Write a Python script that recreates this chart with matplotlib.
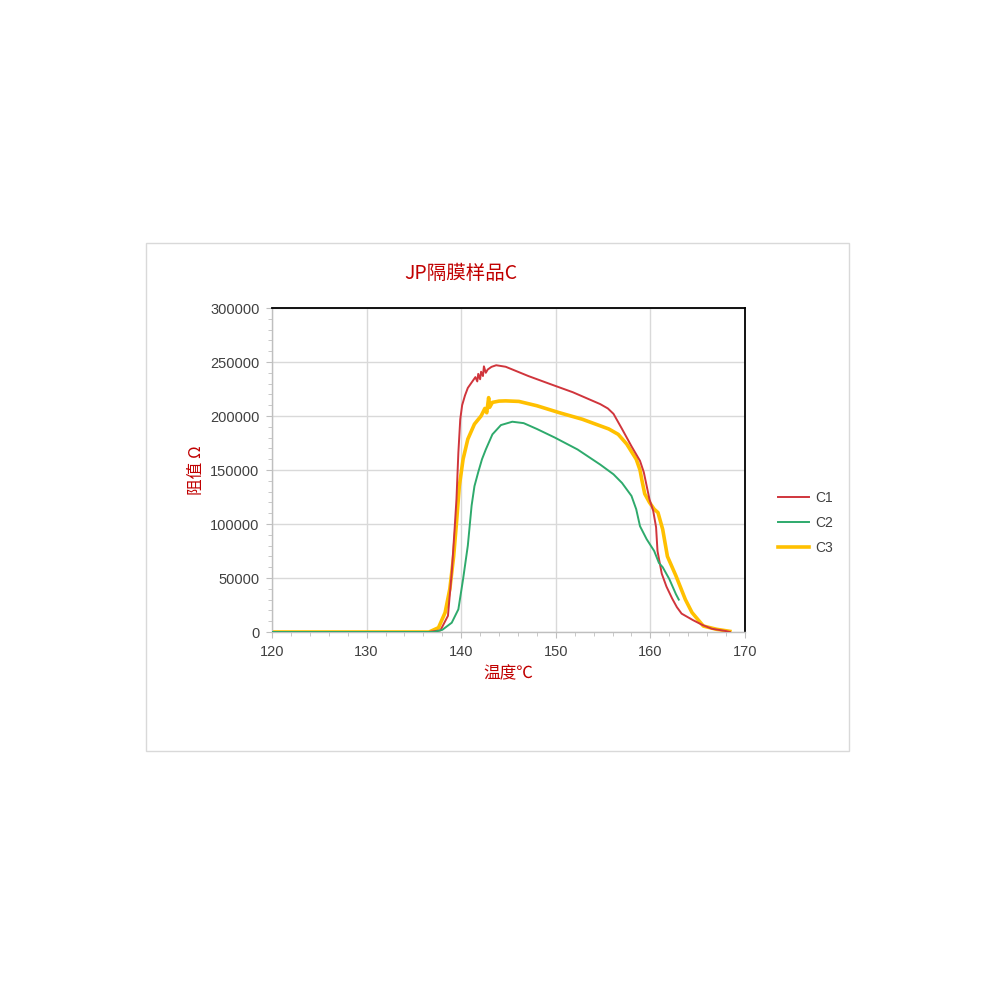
import matplotlib
matplotlib.use("Agg")
import matplotlib.pyplot as plt
from matplotlib.patches import Rectangle
from matplotlib.ticker import MultipleLocator

plt.rcParams['font.family'] = ['Liberation Sans', 'Noto Sans CJK SC', 'DejaVu Sans']

title = "JP隔膜样品C"
xlabel = "温度℃"
ylabel = "阻值 Ω"
series_names = ["C1", "C2", "C3"]
colors = ["#d0353c", "#2eaa6c", "#ffc000"]

t1 = [120, 130, 136.5, 137.8, 138.6, 139.0, 139.3, 139.5, 139.7, 139.9, 140.1, 140.4, 140.7, 141.1,
      141.5, 141.7, 141.8, 142.0, 142.1, 142.3, 142.4, 142.6, 142.8, 143.2, 143.7, 144.7, 147.1,
      149.4, 151.8, 154.7, 155.5, 156.1, 157.0, 158.0, 158.9, 159.3, 159.9, 160.3, 160.6, 160.75,
      161.2, 161.7, 162.3, 162.8, 163.3, 164.5, 165.5, 166.5, 167.9, 168.4]
r1 = [0, 0, 0, 1500, 15000, 55000, 95000, 123000, 166000, 197000, 210000, 219000, 226000, 231000,
      236000, 232000, 239000, 234000, 241000, 237000, 246000, 240000, 243000, 245500, 247000, 245600,
      237000, 229600, 222000, 211000, 207000, 202000, 188000, 172000, 158500, 148000, 123000, 112000,
      97000, 75000, 54000, 42000, 31000, 23000, 17000, 11000, 6500, 3000, 1000, 0]

t2 = [120, 130, 137.1, 138.0, 139.0, 139.7, 140.2, 140.7, 141.1, 141.4, 141.8, 142.2, 142.6, 143.3,
      144.2, 145.4, 146.6, 148.0, 149.9, 152.3, 154.7, 156.1, 157.0, 158.0, 158.5, 158.9, 159.6,
      160.4, 160.9, 161.3, 162.0, 162.7, 163.0]
r2 = [0, 0, 0, 2000, 8600, 21000, 49000, 80000, 117000, 135000, 148000, 160000, 169000, 183000,
      191600, 194700, 193400, 188000, 180000, 169000, 155000, 146000, 138000, 126000, 113700, 98000,
      86000, 75000, 64000, 60000, 49000, 35000, 30000]

t3 = [120, 130, 136.6, 137.6, 138.3, 138.8, 139.2, 139.5, 139.8, 140.2, 140.7, 141.4, 142.1,
      142.5, 142.7, 142.9, 143.0, 143.3, 144.0, 144.7, 146.1, 148.0, 150.4, 152.8, 155.6, 156.6,
      157.5, 158.5, 158.9, 159.1, 159.4, 159.9, 160.4, 160.8, 161.3, 161.8, 162.7, 163.7,
      164.4, 165.6, 167.0, 168.4]
r3 = [0, 0, 0, 4000, 18000, 40000, 70000, 101000, 135000, 160000, 178600, 192500, 200000,
      207000, 203000, 217000, 208000, 212600, 213800, 214000, 213500, 209500, 203000, 197000, 188000,
      183000, 174000, 160000, 150000, 140700, 128000, 120000, 113700, 110600, 95000, 70000, 52000,
      30000, 18000, 5500, 2500, 600]

fig = plt.figure(figsize=(10, 10), dpi=100)
fig.patch.set_facecolor("white")
fig.patches.append(Rectangle((0.146, 0.249), 0.703, 0.508, transform=fig.transFigure,
                             fill=False, edgecolor="#d9d9d9", linewidth=1.0))

ax = fig.add_axes([0.272, 0.368, 0.473, 0.324])
ax.plot(t1, r1, color=colors[0], linewidth=1.4, label=series_names[0], zorder=3)
ax.plot(t2, r2, color=colors[1], linewidth=1.4, label=series_names[1], zorder=3)
ax.plot(t3, r3, color=colors[2], linewidth=2.6, label=series_names[2], zorder=2)

ax.set_xlim(120, 170)
ax.set_ylim(0, 300000)
ax.xaxis.set_major_locator(MultipleLocator(10))
ax.xaxis.set_minor_locator(MultipleLocator(2))
ax.yaxis.set_major_locator(MultipleLocator(50000))
ax.yaxis.set_minor_locator(MultipleLocator(10000))
ax.grid(True, which="major", color="#d9d9d9", linewidth=1.0, zorder=0)
ax.set_axisbelow(True)

for s in ["top", "right"]:
    ax.spines[s].set_color("black")
    ax.spines[s].set_linewidth(1.3)
for s in ["left", "bottom"]:
    ax.spines[s].set_color("#bfbfbf")
    ax.spines[s].set_linewidth(1.0)

ax.tick_params(axis="both", which="major", length=4, color="#bfbfbf", labelsize=10.5,
               labelcolor="#404040", direction="out")
ax.tick_params(axis="both", which="minor", length=3, color="#bfbfbf", direction="out")
ax.tick_params(axis="y", pad=5)
ax.tick_params(axis="x", pad=5)

ax.set_title(title, color="#c00000", fontsize=14, pad=21,
             family=['Noto Sans CJK SC', 'DejaVu Sans'], x=0.40)
ax.set_xlabel(xlabel, color="#c00000", fontsize=12, labelpad=5,
              family=['Noto Sans CJK SC', 'DejaVu Sans'])
ax.set_ylabel(ylabel, color="#c00000", fontsize=12, labelpad=4,
              family=['Noto Sans CJK SC', 'DejaVu Sans'])

leg = ax.legend(loc="center left", bbox_to_anchor=(1.07, 0.336), frameon=False,
                fontsize=10, handlelength=2.2, labelspacing=0.8, handletextpad=0.5,
                borderpad=0, borderaxespad=0, labelcolor="#404040")

fig.savefig("out.png", dpi=100, facecolor="white")
